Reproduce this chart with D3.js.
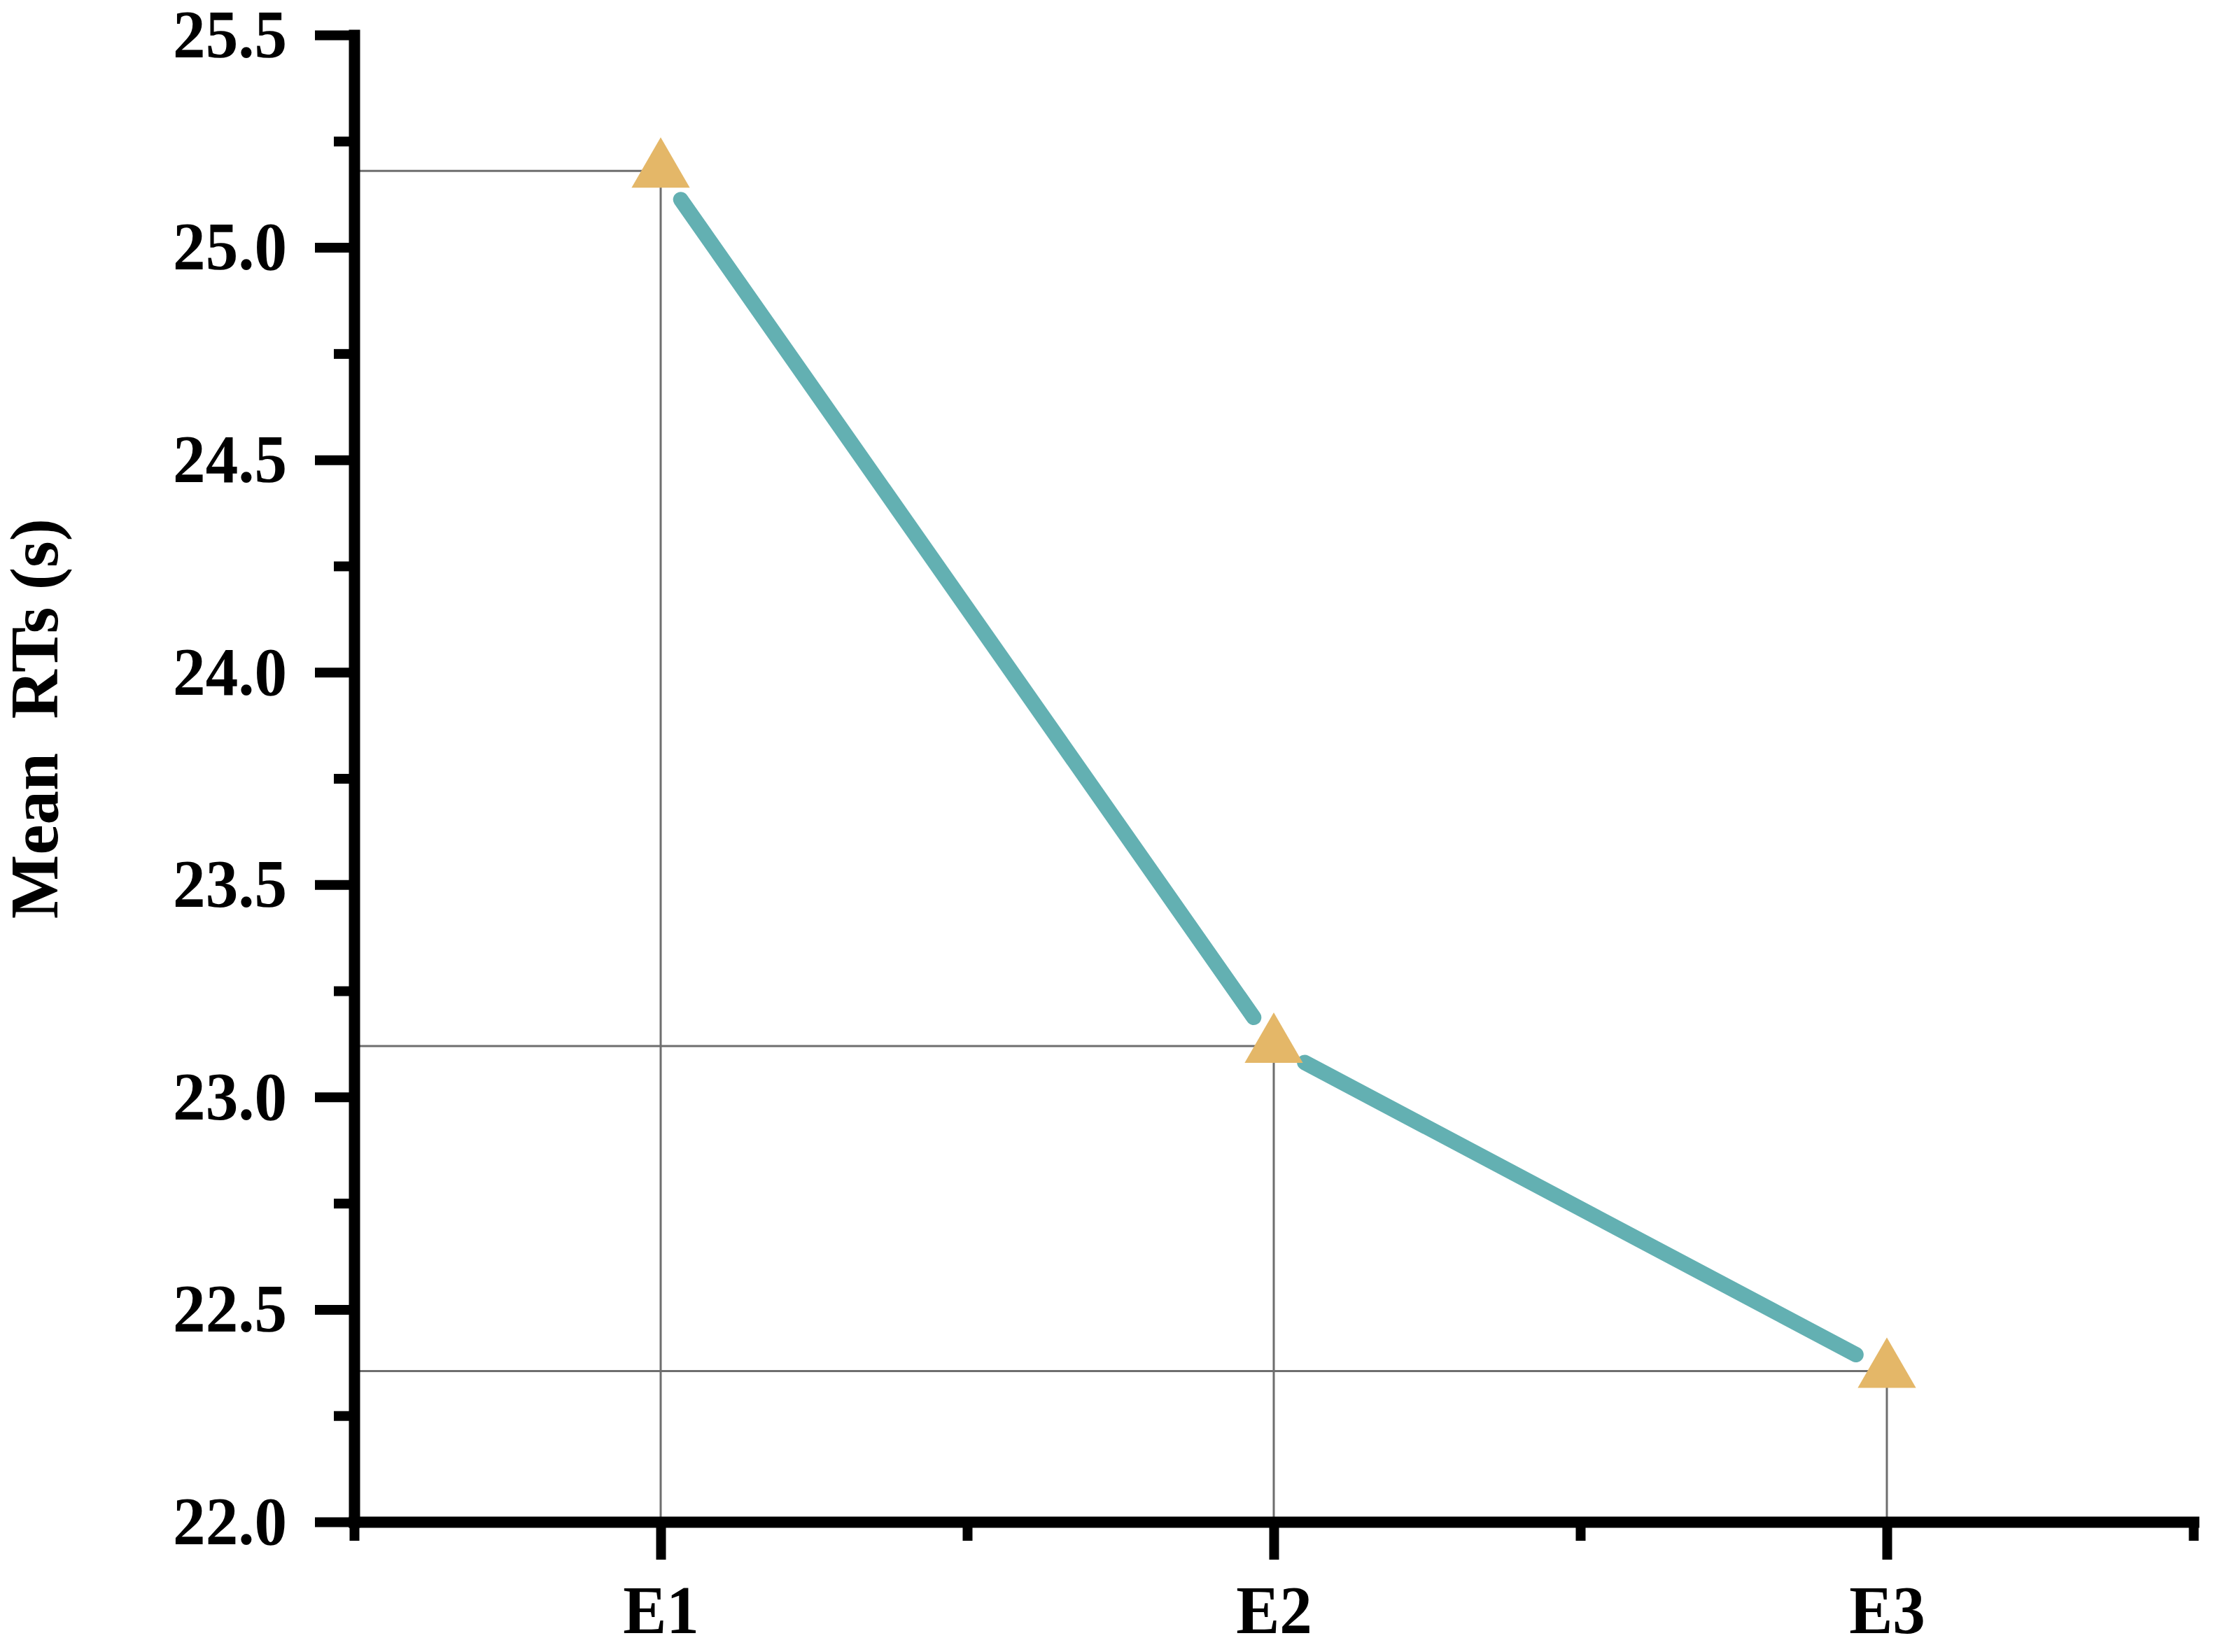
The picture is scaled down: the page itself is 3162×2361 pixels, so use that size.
<!DOCTYPE html>
<html>
<head>
<meta charset="utf-8">
<script src="https://cdn.jsdelivr.net/npm/d3@7"></script>
<style>
  html, body { margin: 0; padding: 0; background: #ffffff; }
  svg { display: block; }
  text { font-family: "Liberation Serif", "Times New Roman", serif; font-weight: bold; fill: #000; }
</style>
</head>
<body>
<script>
// ---- data ----
const categories = ["E1", "E2", "E3"];
const meanRTs = [25.18, 23.12, 22.355];
const yTicks = [22.0, 22.5, 23.0, 23.5, 24.0, 24.5, 25.0, 25.5];
const yMinorTicks = [22.25, 22.75, 23.25, 23.75, 24.25, 24.75, 25.25];
const yTitle = "Mean  RTs (s)";

const W = 3162, H = 2361;
const svg = d3.select("body").append("svg").attr("width", W).attr("height", H);

const x = d3.scaleLinear().domain([0.5, categories.length + 0.5]).range([506, 3134]);
const y = d3.scaleLinear().domain([22, 25.5]).range([2175, 50]);

const pts = categories.map((c, i) => ({ c, i: i + 1, v: meanRTs[i] }));

// drop lines
const drops = svg.append("g").attr("stroke", "#6e6e6e").attr("stroke-width", 3).attr("fill", "none");
pts.forEach(p => {
  drops.append("line").attr("x1", x(0.5)).attr("x2", x(p.i)).attr("y1", y(p.v)).attr("y2", y(p.v));
  drops.append("line").attr("x1", x(p.i)).attr("x2", x(p.i)).attr("y1", y(p.v)).attr("y2", y(22));
});

// line segments with gaps near markers
const gap = 50;
const lineG = svg.append("g").attr("stroke", "#63b0b2").attr("stroke-width", 22)
  .attr("stroke-linecap", "round").attr("fill", "none");
for (let k = 0; k < pts.length - 1; k++) {
  const x0 = x(pts[k].i), y0 = y(pts[k].v), x1 = x(pts[k + 1].i), y1 = y(pts[k + 1].v);
  const L = Math.hypot(x1 - x0, y1 - y0), ux = (x1 - x0) / L, uy = (y1 - y0) / L;
  lineG.append("line")
    .attr("x1", x0 + ux * gap).attr("y1", y0 + uy * gap)
    .attr("x2", x1 - ux * gap).attr("y2", y1 - uy * gap);
}

// markers
svg.append("g").selectAll("path").data(pts).join("path")
  .attr("d", d3.symbol(d3.symbolTriangle, 3000))
  .attr("transform", p => `translate(${x(p.i)},${y(p.v)})`)
  .attr("fill", "#e4b768");

// axes
function styleAxis(g, tw) {
  g.selectAll(".tick line").attr("stroke", "#000").attr("stroke-width", tw);
}
function condense(sel, f) {
  sel.each(function () {
    const w = this.getComputedTextLength();
    d3.select(this).attr("textLength", w * f).attr("lengthAdjust", "spacingAndGlyphs");
  });
}
const xMajor = svg.append("g").attr("transform", `translate(0,${y(22)})`)
  .call(d3.axisBottom(x).tickValues(d3.range(1, categories.length + 1))
    .tickFormat(d => categories[d - 1]).tickSize(54).tickSizeOuter(0).tickPadding(35));
xMajor.select(".domain").attr("stroke", "#000").attr("stroke-width", 16).attr("stroke-linecap", "square");
styleAxis(xMajor, 14);
xMajor.selectAll("text").style("font-size", "98px").style("font-family", "Liberation Serif").style("font-weight", "bold");
condense(xMajor.selectAll("text"), 0.95);

const xMinor = svg.append("g").attr("transform", `translate(0,${y(22)})`)
  .call(d3.axisBottom(x).tickValues(d3.range(0.5, categories.length + 1, 1)).tickSize(27).tickSizeOuter(0).tickFormat(""));
xMinor.select(".domain").remove();
styleAxis(xMinor, 14);

const yMajor = svg.append("g").attr("transform", `translate(${x(0.5)},0)`)
  .call(d3.axisLeft(y).tickValues(yTicks).tickFormat(d3.format(".1f")).tickSize(56).tickSizeOuter(0).tickPadding(40));
yMajor.select(".domain").attr("stroke", "#000").attr("stroke-width", 16).attr("stroke-linecap", "square");
styleAxis(yMajor, 14);
yMajor.selectAll("text").style("font-size", "98px").style("font-family", "Liberation Serif").style("font-weight", "bold");
condense(yMajor.selectAll("text"), 0.95);

const yMinor = svg.append("g").attr("transform", `translate(${x(0.5)},0)`)
  .call(d3.axisLeft(y).tickValues(yMinorTicks).tickSize(29).tickSizeOuter(0).tickFormat(""));
yMinor.select(".domain").remove();
styleAxis(yMinor, 14);

// y title
svg.append("text")
  .attr("transform", "translate(82,1027) rotate(-90)")
  .attr("text-anchor", "middle")
  .style("white-space", "pre")
  .style("font-size", "97px")
  .text(yTitle);
</script>
</body>
</html>
